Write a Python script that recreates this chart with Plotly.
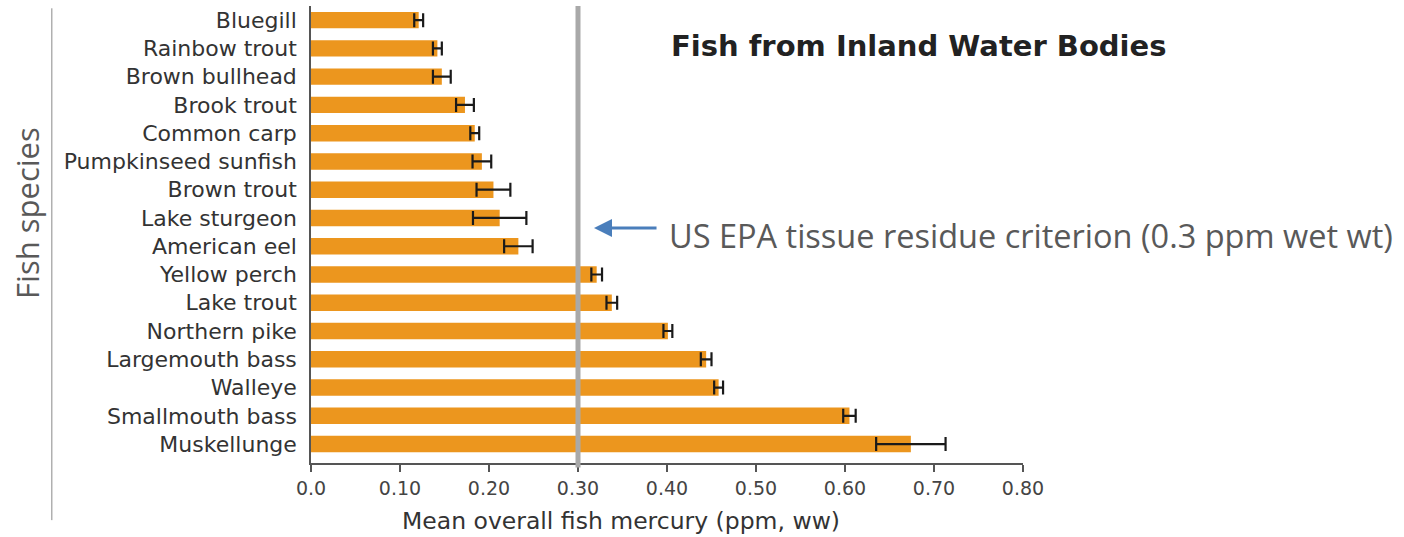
import plotly.graph_objects as go

# Mean mercury concentration by species (ppm, wet weight) with error bars
species = [
    "Bluegill", "Rainbow trout", "Brown bullhead", "Brook trout", "Common carp",
    "Pumpkinseed sunfish", "Brown trout", "Lake sturgeon", "American eel",
    "Yellow perch", "Lake trout", "Northern pike", "Largemouth bass", "Walleye",
    "Smallmouth bass", "Muskellunge",
]
mean_hg = [0.121, 0.142, 0.147, 0.173, 0.184, 0.192, 0.205, 0.212, 0.233,
           0.321, 0.338, 0.401, 0.444, 0.458, 0.605, 0.674]
err_hg = [0.005, 0.005, 0.010, 0.010, 0.005, 0.0105, 0.019, 0.030, 0.016,
          0.006, 0.006, 0.005, 0.006, 0.005, 0.007, 0.039]

epa_criterion = 0.30
x_ticks = [0.0, 0.1, 0.2, 0.3, 0.4, 0.5, 0.6, 0.7, 0.8]
x_tick_text = ["0.0", "0.10", "0.20", "0.30", "0.40", "0.50", "0.60", "0.70", "0.80"]

label_font = "'DejaVu Sans', sans-serif"
note_font = "'Open Sans', 'Noto Sans', sans-serif"

fig = go.Figure()
fig.add_trace(go.Bar(
    x=mean_hg,
    y=species,
    orientation="h",
    width=0.58,
    marker=dict(color="#EC961E", line=dict(width=0)),
    error_x=dict(type="data", array=err_hg, visible=True,
                 color="#1a1a1a", thickness=2.2, width=7),
    hoverinfo="x+y",
))

# EPA criterion reference line
fig.add_shape(type="line", xref="x", yref="paper",
              x0=epa_criterion, x1=epa_criterion, y0=-0.01, y1=1.0,
              line=dict(color="#A9A9A9", width=5), layer="above")

# thin separator beside the y-axis title
fig.add_shape(type="line", xref="paper", yref="paper",
              x0=-0.364, x1=-0.364, y0=-0.125, y1=0.995,
              line=dict(color="#8a8a8a", width=1))

fig.add_annotation(text="<b>Fish from Inland Water Bodies</b>",
                   xref="paper", yref="paper", x=0.503, y=0.912,
                   xanchor="left", yanchor="middle", showarrow=False,
                   font=dict(family=label_font, size=29, color="#222222"))

fig.add_annotation(text="US EPA tissue residue criterion (0.3 ppm wet wt)",
                   xref="paper", yref="paper", x=0.500, y=0.497,
                   xanchor="left", yanchor="middle", showarrow=False,
                   font=dict(family=note_font, size=32.5, color="#595959"))

# blue arrow pointing at the criterion line
fig.add_annotation(text="", xref="x", yref="paper",
                   x=epa_criterion + 0.018, y=0.514,
                   ax=64, ay=0, axref="pixel", ayref="pixel",
                   showarrow=True, arrowhead=2, arrowsize=1.2,
                   arrowwidth=3, arrowcolor="#4A7EBB")

fig.add_annotation(text="Fish species", xref="paper", yref="paper",
                   x=-0.399, y=0.547, textangle=-90, showarrow=False,
                   xanchor="center", yanchor="middle",
                   font=dict(family=note_font, size=31, color="#595959"))

fig.add_annotation(text="Mean overall fish mercury (ppm, ww)",
                   xref="paper", yref="paper", x=0.435, y=-0.128,
                   xanchor="center", yanchor="middle", showarrow=False,
                   font=dict(family=label_font, size=23.5, color="#333333"))

fig.update_xaxes(range=[0, 0.8], tickvals=x_ticks, ticktext=x_tick_text,
                 showgrid=False, zeroline=False, showline=True,
                 linecolor="#555555", linewidth=1.5,
                 ticks="outside", ticklen=7, tickwidth=1.5, tickcolor="#555555",
                 tickfont=dict(family=label_font, size=19, color="#444444"))
fig.update_yaxes(type="category", categoryorder="array", categoryarray=species,
                 range=[15.67, -0.5], showgrid=False, zeroline=False,
                 showline=True, linecolor="#555555", linewidth=1.5,
                 ticks="", ticklabelstandoff=8,
                 tickfont=dict(family=label_font, size=22, color="#333333"))

fig.update_layout(width=1404, height=537,
                  margin=dict(l=311, r=381, t=6, b=74),
                  plot_bgcolor="white", paper_bgcolor="white",
                  showlegend=False, bargap=0.4)

fig.write_html("out.html")
